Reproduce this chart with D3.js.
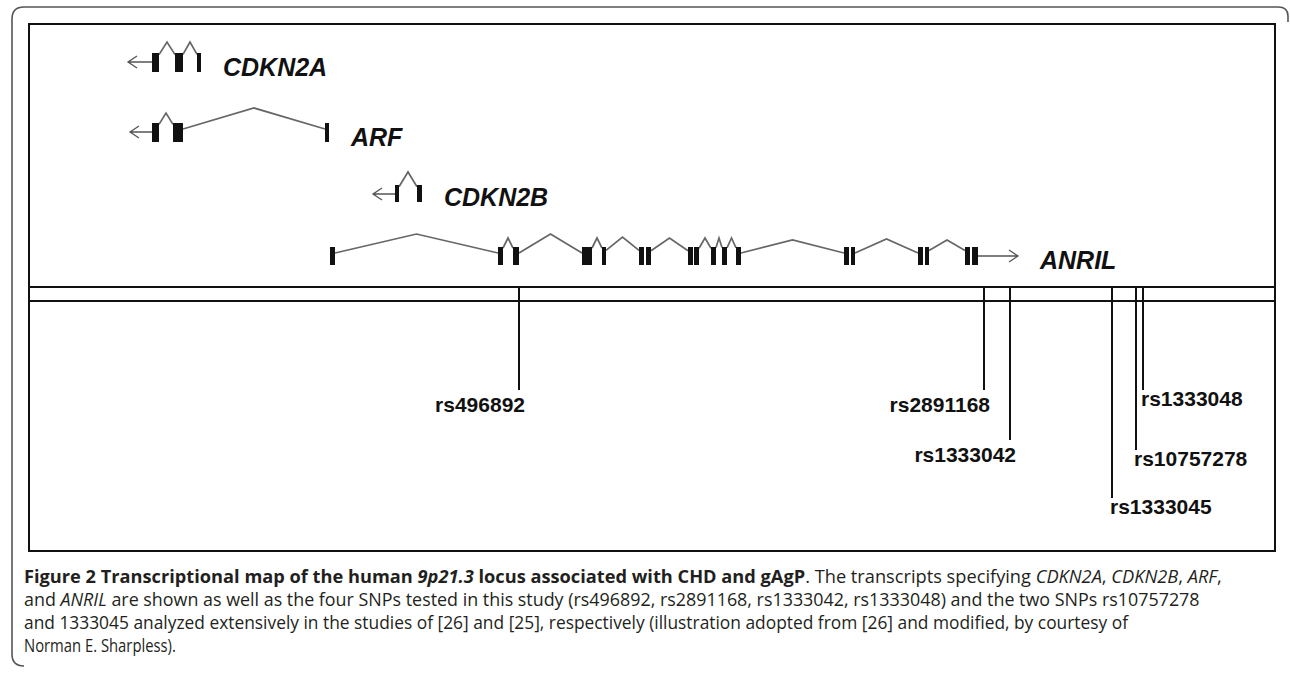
<!DOCTYPE html>
<html>
<head>
<meta charset="utf-8">
<script src="https://cdn.jsdelivr.net/npm/d3@7"></script>
<style>
  body { margin: 0; background: #fff; }
  svg { display: block; }
</style>
</head>
<body>
<svg id="fig"></svg>
<script>
// ---- data (positions in map units along the locus) ----
const genes = ["CDKN2A", "ARF", "CDKN2B", "ANRIL"];
const strands = [-1, -1, -1, 1];
const arrowTips = [98, 100, 343, 988];

const cdkn2aExons = [[122, 129], [145, 153], [167, 171]];
const arfExons = [[122, 129], [143, 153], [295, 299]];
const cdkn2bExons = [[365, 369], [387, 392]];
const anrilExons = [[300, 305], [468, 473], [483, 489], [552, 562], [572, 576],
  [609, 614], [616, 621], [658, 663], [664, 669], [681, 686], [692, 697],
  [706, 711], [814, 819], [821, 825], [888, 893], [895, 899], [935, 940], [942, 948]];

// intron peak heights above the exon top
const cdkn2aPeaks = [11, 11];
const arfPeaks = [10, 15];
const cdkn2bPeaks = [13];
const anrilPeaks = [13, 9, 13, 9, 10, 9, 9, 9, 9, 7, 8, 7];

const snpNames = ["rs496892", "rs2891168", "rs1333042", "rs1333045", "rs10757278", "rs1333048"];
const snpPos = [489, 954, 980, 1082, 1106, 1113];
const snpSide = ["left", "left", "left", "right", "right", "right"];

const caption = [
  [["Figure 2 Transcriptional map of the human ", "b"], ["9p21.3", "bi"], [" locus associated with CHD and gAgP", "b"],
   [". The transcripts specifying ", ""], ["CDKN2A", "i"], [", ", ""], ["CDKN2B", "i"], [", ", ""], ["ARF", "i"], [",", ""]],
  [["and ", ""], ["ANRIL", "i"], [" are shown as well as the four SNPs tested in this study (rs496892, rs2891168, rs1333042, rs1333048) and the two SNPs rs10757278", ""]],
  [["and 1333045 analyzed extensively in the studies of [26] and [25], respectively (illustration adopted from [26] and modified, by courtesy of", ""]],
  [["Norman E. Sharpless).", ""]]
];

// ---- layout ----
const W = 1290, H = 674;
const box = {left: 30, top: 24, right: 1275, bottom: 551};
const chromY = [287, 301];
const rowTop = d3.scaleOrdinal().domain(genes).range([53, 123, 185, 247]);
const exonH = d3.scaleOrdinal().domain(genes).range([19, 19, 17, 18]);
const snpLineEnd = [390, 390, 440, 498, 450, 390];
const captionWidths = [1198, 1176, 1106, 152];
const captionBase = d3.scaleLinear().domain([0, 1]).range([583, 606]);

const x = d3.scaleLinear().domain([0, 1245]).range([box.left, box.right]);

const exonSets = [cdkn2aExons, arfExons, cdkn2bExons, anrilExons];
const peakSets = [cdkn2aPeaks, arfPeaks, cdkn2bPeaks, anrilPeaks];

const svg = d3.select("#fig").attr("width", W).attr("height", H);

// outer rounded frame (page panel)
svg.append("path")
  .attr("d", "M24,666 Q12,666 12,654 L12,19 Q12,7 24,7 L1278,7 Q1288,7 1288,16 L1288,22")
  .attr("fill", "none").attr("stroke", "#555").attr("stroke-width", 1.6);

// inner figure box
svg.append("rect")
  .attr("x", box.left - 1).attr("y", box.top)
  .attr("width", box.right - box.left + 1).attr("height", box.bottom - box.top)
  .attr("fill", "none").attr("stroke", "#111").attr("stroke-width", 2);

// ---- transcripts ----
const tg = svg.append("g");
genes.forEach((g, i) => {
  const exons = exonSets[i], peaks = peakSets[i];
  const top = rowTop(g), h = exonH(g);
  const row = tg.append("g").attr("class", "gene");

  // introns
  const introns = [];
  for (let k = 0; k < exons.length - 1; k++) {
    const gap = exons[k + 1][0] - exons[k][1];
    if (gap > 3) introns.push([exons[k][1], exons[k + 1][0]]);
  }
  row.selectAll(".intron").data(introns).enter().append("path")
    .attr("class", "intron")
    .attr("d", (d, k) => {
      const x0 = x(d[0]), x1 = x(d[1]);
      const ya = top + Math.min(6, (d[1] - d[0]) / 10);
      const yp = top - peaks[k];
      return `M${x0},${ya}L${(x0 + x1) / 2},${yp}L${x1},${ya}`;
    })
    .attr("fill", "none").attr("stroke", "#666").attr("stroke-width", 1.7);

  // direction arrow
  const ay = top + 9;
  const from = strands[i] < 0 ? x(exons[0][0]) : x(exons[exons.length - 1][1]);
  const tip = x(arrowTips[i]);
  const dir = strands[i];
  row.append("path")
    .attr("d", `M${from},${ay}L${tip},${ay}M${tip - dir * 9},${ay - 6}L${tip},${ay}L${tip - dir * 9},${ay + 6}`)
    .attr("fill", "none").attr("stroke", "#555").attr("stroke-width", 1.3);

  // exons
  row.selectAll(".exon").data(exons).enter().append("rect")
    .attr("class", "exon")
    .attr("x", d => x(d[0])).attr("y", top)
    .attr("width", d => x(d[1]) - x(d[0])).attr("height", h)
    .attr("fill", "#111");

  const right = Math.max(x(exons[exons.length - 1][1]), tip);
  row.append("text")
    .attr("x", right + 22).attr("y", top + h + 4)
    .attr("font-family", "Liberation Sans, Arial, sans-serif")
    .attr("font-size", 25).attr("font-weight", "bold").attr("font-style", "italic")
    .attr("fill", "#111")
    .text(g);
});

// ---- chromosome ----
svg.selectAll(".chrom").data(chromY).enter().append("line")
  .attr("class", "chrom")
  .attr("x1", box.left - 1).attr("x2", box.right)
  .attr("y1", d => d).attr("y2", d => d)
  .attr("stroke", "#111").attr("stroke-width", 2.2);

// ---- SNPs ----
const snps = snpNames.map((n, i) => ({name: n, pos: snpPos[i], side: snpSide[i], end: snpLineEnd[i]}));
const sg = svg.selectAll(".snp").data(snps).enter().append("g").attr("class", "snp");
sg.append("line")
  .attr("x1", d => x(d.pos)).attr("x2", d => x(d.pos))
  .attr("y1", chromY[0]).attr("y2", d => d.end)
  .attr("stroke", "#111").attr("stroke-width", 2);
sg.append("text")
  .attr("x", d => d.side === "left" ? x(d.pos) + 6 : x(d.pos) - 2)
  .attr("y", d => d.end + (d.side === "left" ? 22 : 16))
  .attr("text-anchor", d => d.side === "left" ? "end" : "start")
  .attr("font-family", "Liberation Sans, Arial, sans-serif")
  .attr("font-size", 21).attr("font-weight", "bold").attr("fill", "#111")
  .text(d => d.name);

// ---- caption ----
// the original face is narrower than anything installed, so each line is squeezed to its width
const cg = svg.append("g");
caption.forEach((segs, li) => {
  const lg = cg.append("g");
  const t = lg.append("text")
    .attr("font-family", "Open Sans, Noto Sans, sans-serif")
    .attr("font-size", 18).attr("fill", "#231f20");
  segs.forEach(([txt, st]) => {
    t.append("tspan")
      .attr("font-weight", st.includes("b") ? "bold" : "normal")
      .attr("font-style", st.includes("i") ? "italic" : "normal")
      .text(txt);
  });
  const w = t.node().getBBox().width;
  lg.attr("transform", `translate(24,${captionBase(li)}) scale(${captionWidths[li] / w},1)`);
});
</script>
</body>
</html>
